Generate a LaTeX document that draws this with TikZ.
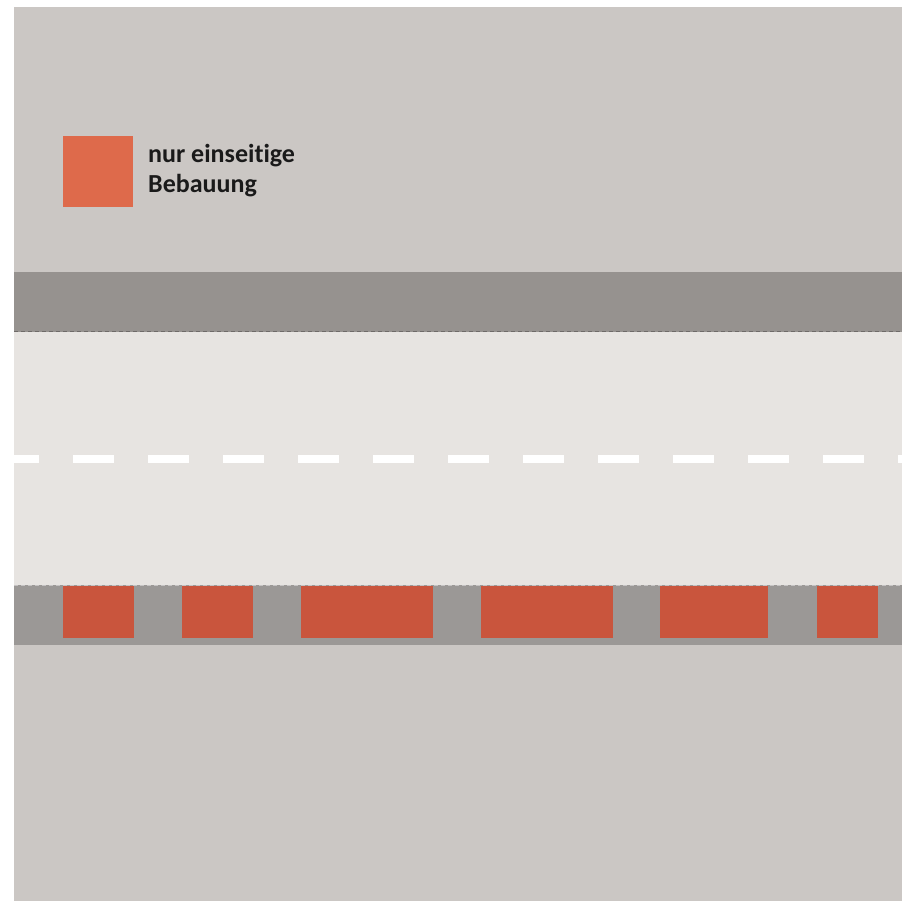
\documentclass[tikz,border=0pt]{standalone}
\usepackage{fontspec}
\setmainfont[Ligatures={NoCommon,NoRare,NoContextual}]{Carlito}
\definecolor{ground}{HTML}{CBC7C4}
\definecolor{walkway}{HTML}{96928F}
\definecolor{road}{HTML}{E7E4E1}
\definecolor{lowband}{HTML}{9B9896}
\definecolor{house}{HTML}{C9553D}
\definecolor{legendred}{HTML}{DE6A4B}
\definecolor{edgeline}{HTML}{6E6A68}
\definecolor{txt}{HTML}{1A1A1A}
\begin{document}
\begin{tikzpicture}[x=1pt,y=-1pt,
  building/.style={fill=house,draw=none},
  legtext/.style={anchor=base west,inner sep=0pt,font=\bfseries\fontsize{26}{30}\selectfont,text=txt},
  edgedash/.style={draw=edgeline,line width=1.2pt,dash pattern=on 4pt off 3pt},
  centerdash/.style={draw=white,line width=8pt,dash pattern=on 41pt off 34pt}]
\useasboundingbox (0,0) rectangle (902,901);
\fill[white] (0,0) rectangle (902,901);
% ground
\fill[ground] (14,7) rectangle (902,901);
% upper walkway
\fill[walkway] (14,272) rectangle (902,332);
% road
\fill[road] (14,332) rectangle (902,585);
% lower band
\fill[lowband] (14,585) rectangle (902,645);
% edge dashes
\coordinate (et1) at (14,331.5);
\coordinate (et2) at (902,331.5);
\coordinate (eb1) at (14,585.5);
\coordinate (eb2) at (902,585.5);
\draw[edgedash] (et1) -- (et2);
\draw[edgedash,draw=edgeline!40] (eb1) -- (eb2);
% center dashed line
\begin{scope}
\clip (14,440) rectangle (902,480);
\coordinate (c1) at (-2,459);
\coordinate (c2) at (940,459);
\draw[centerdash] (c1) -- (c2);
\end{scope}
% buildings
\fill[building] (63,586) rectangle (134,638);
\fill[building] (182,586) rectangle (253,638);
\fill[building] (301,586) rectangle (433,638);
\fill[building] (481,586) rectangle (613,638);
\fill[building] (660,586) rectangle (768,638);
\fill[building] (817,586) rectangle (878,638);
% legend
\fill[legendred] (63,136) rectangle (133,207);
\node[legtext] (leg1) at (148,163) {nur einseit\kern0pt ige};
\node[legtext] (leg2) at (148,193) {Bebauung};
\end{tikzpicture}
\end{document}
